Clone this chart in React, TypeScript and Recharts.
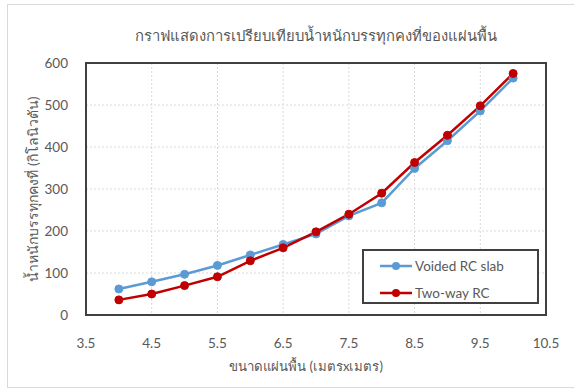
import { LineChart, Line, XAxis, YAxis, CartesianGrid, Legend, ReferenceArea } from "recharts";

const slabSizes = [4, 4.5, 5, 5.5, 6, 6.5, 7, 7.5, 8, 8.5, 9, 9.5, 10];
const voidedSlab = [62, 79, 97, 118, 143, 168, 193, 236, 267, 349, 415, 486, 564];
const twoWaySlab = [36, 50, 70, 91, 129, 160, 198, 240, 290, 363, 428, 498, 575];
const seriesNames = ["Voided RC slab", "Two-way RC"];
const xTicks = [3.5, 4.5, 5.5, 6.5, 7.5, 8.5, 9.5, 10.5];
const yTicks = [0, 100, 200, 300, 400, 500, 600];

const data = slabSizes.map((x, i) => ({
  x,
  voided: voidedSlab[i],
  twoWay: twoWaySlab[i],
}));

const font = "Lato, 'Noto Sans', sans-serif";
const textGray = "#595959";

const LegendBox = (props: any) => {
  // keep the series order instead of recharts' alphabetical sort
  const items = [...(props.payload || [])].sort(
    (a: any, b: any) => seriesNames.indexOf(a.value) - seriesNames.indexOf(b.value)
  );
  return (
    <div
      style={{
        boxSizing: "border-box",
        width: 177,
        height: 55,
        border: "2px solid #404040",
        background: "#fff",
        paddingTop: 1,
        paddingLeft: 15,
      }}
    >
      {items.map((item: any, i: number) => (
        <div key={i} style={{ display: "flex", alignItems: "center", height: 27 }}>
          <svg width={34} height={10}>
            <line x1={1} y1={5} x2={33} y2={5} stroke={item.color} strokeWidth={2.5} />
            <circle cx={17} cy={5} r={4} fill={item.color} />
          </svg>
          <span style={{ fontFamily: font, fontSize: 13.5, color: textGray, marginLeft: 2 }}>
            {item.value}
          </span>
        </div>
      ))}
    </div>
  );
};

export default function App() {
  return (
    <div style={{ position: "absolute", left: 0, top: 0, width: 574, height: 390, background: "#fff" }}>
      {/* chart area frame */}
      <div
        style={{
          position: "absolute",
          left: 7,
          top: 4,
          width: 567,
          height: 384,
          boxSizing: "border-box",
          borderTop: "1px solid #d9d9d9",
          borderLeft: "1px solid #d9d9d9",
          borderBottom: "1px solid #d9d9d9",
        }}
      />
      <div
        style={{
          position: "absolute",
          left: 86,
          top: 23,
          width: 460,
          textAlign: "center",
          fontFamily: font,
          fontSize: 14.8,
          color: textGray,
          lineHeight: "24px",
        }}
      >
        กราฟแสดงการเปรียบเทียบน้ำหนักบรรทุกคงที่ของแผ่นพื้น
      </div>
      <LineChart
        width={574}
        height={390}
        data={data}
        margin={{ top: 63, right: 28, bottom: 15, left: 26 }}
        style={{ position: "absolute", left: 0, top: 0 }}
      >
        <CartesianGrid stroke="#d9d9d9" strokeDasharray="2 2" />
        <XAxis
          dataKey="x"
          type="number"
          domain={[3.5, 10.5]}
          ticks={xTicks}
          height={60}
          tickLine={false}
          tickSize={0}
          tickMargin={23}
          axisLine={false}
          tick={{ fill: textGray, fontSize: 13.5, fontFamily: font }}
          label={{
            value: "ขนาดแผ่นพื้น (เมตรxเมตร)",
            position: "insideBottom",
            offset: 4,
            dx: -10,
            style: { fill: textGray, fontSize: 13.2, fontFamily: font },
          }}
        />
        <YAxis
          type="number"
          domain={[0, 600]}
          ticks={yTicks}
          width={60}
          tickLine={false}
          tickSize={0}
          tickMargin={18}
          axisLine={false}
          tick={{ fill: textGray, fontSize: 13.5, fontFamily: font }}
          label={{
            value: "น้ำหนักบรรทุกคงที่ (กิโลนิวตัน)",
            angle: -90,
            position: "insideLeft",
            offset: 7,
            style: { fill: textGray, fontSize: 14, fontFamily: font, textAnchor: "middle" },
          }}
        />
        <ReferenceArea x1={3.5} x2={10.5} y1={0} y2={600} fill="none" stroke="#404040" strokeWidth={2} />
        <Line
          dataKey="voided"
          name={seriesNames[0]}
          stroke="#5B9BD5"
          strokeWidth={2.5}
          dot={{ r: 4, fill: "#5B9BD5", stroke: "#5B9BD5", strokeWidth: 1 }}
          isAnimationActive={false}
        />
        <Line
          dataKey="twoWay"
          name={seriesNames[1]}
          stroke="#C00000"
          strokeWidth={2.5}
          dot={{ r: 4, fill: "#C00000", stroke: "#C00000", strokeWidth: 1 }}
          isAnimationActive={false}
        />
        <Legend
          layout="vertical"
          align="center"
          verticalAlign="middle"
          content={LegendBox}
          wrapperStyle={{ left: 362, top: 249, width: 177, height: 55 }}
        />
      </LineChart>
    </div>
  );
}
